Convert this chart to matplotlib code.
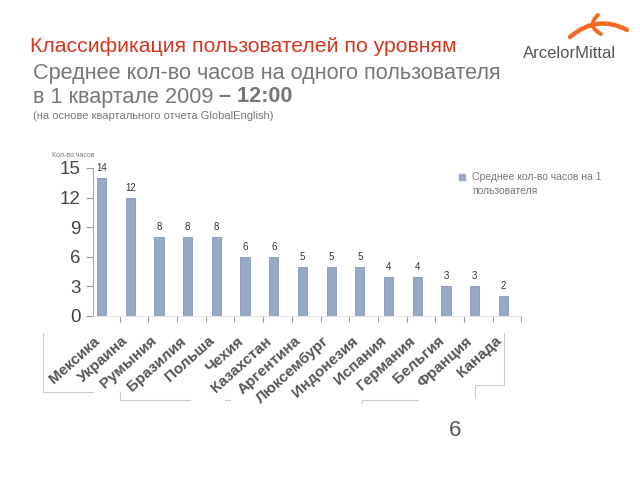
import matplotlib
matplotlib.use("Agg")
import matplotlib.pyplot as plt
from matplotlib.lines import Line2D
from matplotlib.patches import PathPatch
from matplotlib.path import Path
import numpy as np

countries = ["Мексика", "Украина", "Румыния", "Бразилия", "Польша", "Чехия",
             "Казахстан", "Аргентина", "Люксембург", "Индонезия", "Испания",
             "Германия", "Бельгия", "Франция", "Канада"]
hours = [14, 12, 8, 8, 8, 6, 6, 5, 5, 5, 4, 4, 3, 3, 2]
yticks = [0, 3, 6, 9, 12, 15]

plt.rcParams['font.family'] = ['Liberation Sans', 'DejaVu Sans']
fig = plt.figure(figsize=(6.4, 4.8), dpi=100)
W, H = 640, 480

def fx(px):
    return px / W

def fy(py):
    return 1 - py / H

ax = fig.add_axes([fx(93), fy(316), fx(522) - fx(93), fy(168) - fy(316)])
x = np.arange(len(countries))
ax.bar(x, hours, width=0.32, color="#97a9c4", edgecolor="#8596b3", linewidth=0.6)
for xi, v in zip(x, hours):
    ax.text(xi, v + 0.5, str(v), ha="center", va="bottom", fontsize=7, color="#333333")
ax.set_xlim(-0.3, 14.65)
ax.set_ylim(0, 15)
ax.set_yticks(yticks)
ax.set_yticklabels([str(t) for t in yticks], fontsize=13.5, color="#444444")
ax.tick_params(axis="y", length=5, color="#999999", pad=4)
ax.set_xticks(x + 0.63)
ax.set_xticklabels([])
ax.tick_params(axis="x", length=4, color="#999999", direction="out")
for s in ["top", "right"]:
    ax.spines[s].set_visible(False)
ax.spines["left"].set_color("#aaaaaa")
ax.spines["bottom"].set_color("#dddddd")
ax.spines["bottom"].set_linewidth(0.6)

# category labels
for xi, name in zip(x, countries):
    ax.text(xi - 0.3, -1.8, name, rotation=42, ha="right", va="top",
            fontsize=11, fontweight="bold", color="#555555", rotation_mode="anchor",
            transform=ax.transData, clip_on=False)

# y label
fig.text(fx(95), fy(155), "Кол-во часов", fontsize=5, color="#777777",
         va="center", ha="right")

# legend
fig.patches.append(plt.Rectangle((fx(459), fy(180)), 6 / W, 6 / H, color="#97a9c4",
                                 transform=fig.transFigure))
fig.text(fx(472), fy(172), "Среднее кол-во часов на 1\nпользователя", fontsize=7.5,
         color="#777777", va="top", linespacing=1.45)

# titles
fig.text(fx(30), fy(46), "Классификация пользователей по уровням", fontsize=15.3,
         color="#d9341f", va="center")
fig.text(fx(33), fy(73), "Среднее кол-во часов на одного пользователя", fontsize=15.6,
         color="#777777", va="center")
t1 = fig.text(fx(33), fy(97), "в 1 квартале 2009 ", fontsize=15.6, color="#777777",
              va="center")
fig.canvas.draw()
bb = t1.get_window_extent()
fig.text(bb.x1 / W, fy(97), "– 12:00", fontsize=15.6, color="#777777", va="center",
         fontweight="bold")
fig.text(fx(33), fy(116), "(на основе квартального отчета GlobalEnglish)", fontsize=8,
         color="#777777", va="center")

# logo
fig.text(fx(523), fy(54), "ArcelorMittal", fontsize=12, color="#555555", va="center")
orange = "#f26b21"
p1 = Path([(fx(570), fy(37)), (fx(597), fy(14)), (fx(627), fy(30))],
          [Path.MOVETO, Path.CURVE3, Path.CURVE3])
fig.patches.append(PathPatch(p1, transform=fig.transFigure, fill=False,
                             edgecolor=orange, lw=3.2, capstyle="round"))
p2 = Path([(fx(598), fy(15)), (fx(586), fy(26)), (fx(601), fy(34))],
          [Path.MOVETO, Path.CURVE3, Path.CURVE3])
fig.patches.append(PathPatch(p2, transform=fig.transFigure, fill=False,
                             edgecolor=orange, lw=2.8, capstyle="round"))

# slide number
fig.text(fx(455), fy(431), "6", fontsize=16, color="#555555", ha="center", va="center")

# artifact bracket lines
gray = "#cccccc"
segs = [
    ([43, 43, 93], [333, 392, 392]),
    ([120, 120, 190], [392, 400, 400]),
    ([225, 230], [400, 400]),
    ([362, 362, 418], [403, 400, 400]),
    ([475, 475, 504, 504], [397, 385, 385, 333]),
]
for xs, ys in segs:
    fig.lines.append(Line2D([fx(v) for v in xs], [fy(v) for v in ys],
                            transform=fig.transFigure, color=gray, lw=0.8))

fig.savefig("out.png", dpi=100, facecolor="white")
